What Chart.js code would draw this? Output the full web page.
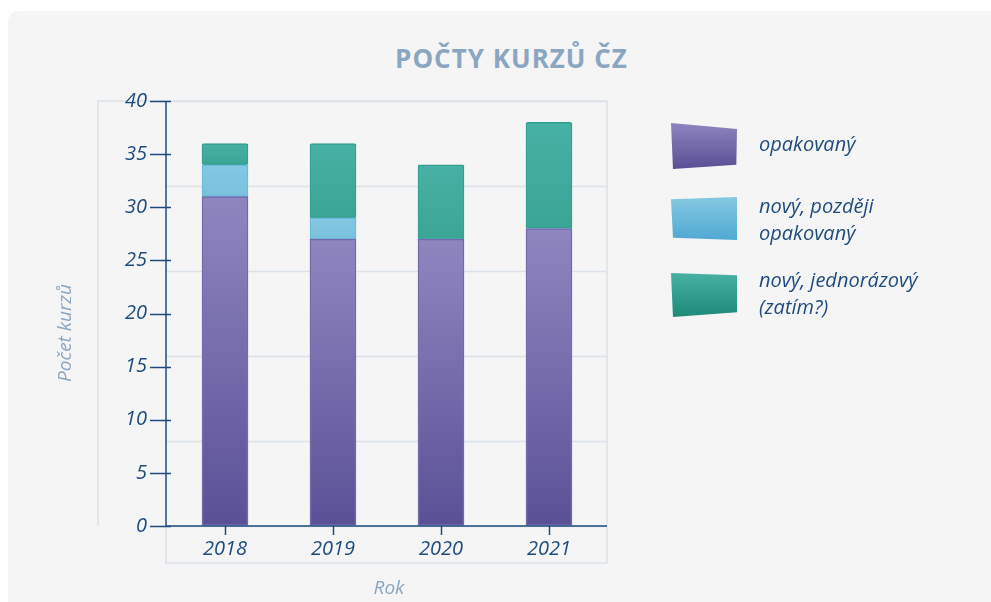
<!DOCTYPE html>
<html lang="cs">
<head>
<meta charset="utf-8">
<title>Počty kurzů ČZ</title>
<script src="https://cdn.jsdelivr.net/npm/chart.js@4/dist/chart.umd.min.js"></script>
<style>
  html, body { margin: 0; padding: 0; background: #fff; overflow: hidden; }
  body { width: 991px; height: 602px; position: relative; font-family: "Open Sans", sans-serif; }
  .card { position: absolute; left: 8px; top: 11px; width: 1000px; height: 620px; background: #f5f5f5; border-radius: 10px; }
  #wrap { position: absolute; left: 0; top: 0; width: 991px; height: 602px; }
  .title { position: absolute; left: 20px; width: 983px; top: 45px; line-height: 26px; text-align: center;
           font-size: 26px; font-weight: 700; color: #8ba6c1; letter-spacing: 1px; }
  .axis-title { position: absolute; font-style: italic; font-size: 19px; color: #8ba6c1; line-height: 26px; text-align: center; }
  .sw { position: absolute; left: 671px; width: 66px; }
  .lbl { position: absolute; left: 759px; font-style: italic; font-size: 20px; line-height: 27px; color: #1f4b7f; }
</style>
</head>
<body>
<div class="card"></div>
<div class="title">POČTY KURZŮ ČZ</div>
<div id="wrap"><canvas id="chart"></canvas></div>
<div class="axis-title" style="left:-36px;top:320px;width:200px;transform:rotate(-90deg)">Počet kurzů</div>
<div class="axis-title" style="left:289px;top:574px;width:200px">Rok</div>

<div class="sw" style="top:123px;height:46px;background:linear-gradient(#8e84be,#5a4f95);clip-path:polygon(0 0,100% 13%,99% 91%,3% 100%)"></div>
<div class="lbl" style="top:130px">opakovaný</div>
<div class="sw" style="top:197px;height:43px;background:linear-gradient(#85c9e2,#50a8d3);clip-path:polygon(0 5%,100% 0,100% 100%,3% 95%)"></div>
<div class="lbl" style="top:192px">nový, později<br>opakovaný</div>
<div class="sw" style="top:273px;height:44px;background:linear-gradient(#47b1a4,#1e8a78);clip-path:polygon(0 0,100% 5%,100% 89%,3% 100%)"></div>
<div class="lbl" style="top:266px">nový, jednorázový<br>(zatím?)</div>

<script>
// ── Data ──────────────────────────────────────────────
const years       = ['2018', '2019', '2020', '2021'];
const opakovany   = [31, 27, 27, 28];
const novyPozdeji = [3, 2, 0, 0];
const jednorazovy = [2, 7, 7, 10];
const yTicks      = { min: 0, max: 40, step: 5 };
const gridStep    = 8;

const AXIS = '#1f4b7f';
const FRAME = '#dbe2ea';

// vertical gradient for one stacked segment
function segmentFill(top, bottom) {
  return ctx => {
    const chart = ctx.chart;
    if (ctx.type !== 'data' || !chart.chartArea) return top;
    const y = chart.scales.y;
    let base = 0;
    for (let i = 0; i < ctx.datasetIndex; i++) base += chart.data.datasets[i].data[ctx.dataIndex] || 0;
    const y0 = y.getPixelForValue(base + (ctx.raw || 0));
    const y1 = y.getPixelForValue(base);
    if (!isFinite(y0) || !isFinite(y1) || y0 === y1) return top;
    const g = chart.ctx.createLinearGradient(0, y0, 0, y1);
    g.addColorStop(0, top);
    g.addColorStop(1, bottom);
    return g;
  };
}

// light frame boxes + grid behind everything, axis lines and y tick crosses on top
const frame = {
  id: 'frame',
  beforeDraw(chart) {
    const { ctx, chartArea: a, scales } = chart;
    const ax = a.left - 5;
    ctx.save();
    ctx.strokeStyle = FRAME;
    ctx.lineWidth = 1.5;
    ctx.beginPath();
    ctx.moveTo(a.left - 73, a.bottom);
    ctx.lineTo(a.left - 73, a.top);
    ctx.lineTo(a.right + 4, a.top);
    ctx.lineTo(a.right + 4, a.bottom + 37);
    ctx.lineTo(ax, a.bottom + 37);
    ctx.lineTo(ax, a.bottom);
    scales.y2.ticks.forEach(t => {
      const py = Math.round(scales.y2.getPixelForValue(t.value)) + 0.5;
      ctx.moveTo(ax, py);
      ctx.lineTo(a.right + 4, py);
    });
    ctx.stroke();
    ctx.restore();
  },
  afterDraw(chart) {
    const { ctx, chartArea: a, scales } = chart;
    const ax = a.left - 5;
    ctx.save();
    ctx.strokeStyle = AXIS;
    ctx.lineWidth = 1.5;
    ctx.beginPath();
    ctx.moveTo(ax, a.top);
    ctx.lineTo(ax, a.bottom);
    ctx.lineTo(a.right + 4, a.bottom);
    scales.y.ticks.forEach(t => {
      const py = Math.round(scales.y.getPixelForValue(t.value)) + 0.5;
      ctx.moveTo(ax - 16, py);
      ctx.lineTo(ax + 5, py);
    });
    ctx.stroke();
    ctx.restore();
  }
};

const tickFont = { family: 'Open Sans', size: 20, style: 'italic' };
const noZero = c => (c.raw ? 1.5 : 0);

new Chart(document.getElementById('chart'), {
  type: 'bar',
  data: {
    labels: years,
    datasets: [
      { label: 'opakovaný', data: opakovany,
        backgroundColor: segmentFill('#8f86c0', '#5a5096'), borderColor: '#7168ae' },
      { label: 'nový, později opakovaný', data: novyPozdeji,
        backgroundColor: segmentFill('#84c8e2', '#79c1dd'), borderColor: '#6cb9d9' },
      { label: 'nový, jednorázový (zatím?)', data: jednorazovy,
        backgroundColor: segmentFill('#48b1a5', '#3aa495'), borderColor: '#31a08f' },
    ].map(d => ({ ...d, borderWidth: noZero, borderRadius: 2, borderSkipped: false, barThickness: 46 })),
  },
  options: {
    responsive: true,
    maintainAspectRatio: false,
    animation: false,
    layout: { padding: { left: 98, top: 101, right: 388, bottom: 0 } },
    plugins: { legend: { display: false }, title: { display: false }, tooltip: { enabled: false } },
    scales: {
      x: {
        stacked: true,
        afterFit: s => { s.height = 76; },
        grid: { offset: false, drawOnChartArea: false, drawTicks: true, tickLength: 9, tickColor: AXIS, tickWidth: 1.5 },
        border: { display: false },
        ticks: { color: AXIS, font: tickFont, padding: 2 },
      },
      y: {
        stacked: true,
        min: yTicks.min, max: yTicks.max,
        afterFit: s => { s.width = 73; },
        grid: { drawOnChartArea: false, drawTicks: false },
        border: { display: false },
        ticks: { stepSize: yTicks.step, color: AXIS, font: tickFont, padding: 24 },
      },
      y2: {
        position: 'right',
        min: yTicks.min, max: yTicks.max,
        afterFit: s => { s.width = 0; },
        grid: { display: false },
        border: { display: false },
        ticks: { display: false, stepSize: gridStep },
      },
    },
  },
  plugins: [frame],
});
</script>
</body>
</html>
